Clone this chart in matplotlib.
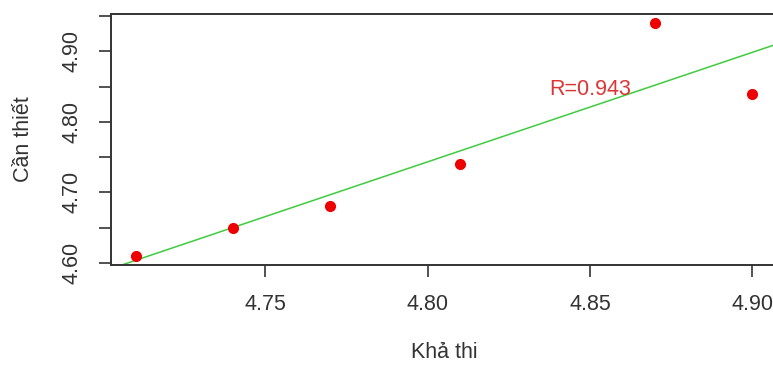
import numpy as np
import matplotlib
matplotlib.use("Agg")
import matplotlib.pyplot as plt

plt.rcParams['font.family'] = ['Liberation Sans', 'DejaVu Sans']

kha_thi = [4.71, 4.74, 4.77, 4.81, 4.87, 4.90]
can_thiet = [4.61, 4.65, 4.68, 4.74, 4.94, 4.84]
x_ticks = [4.75, 4.80, 4.85, 4.90]
y_ticks = [4.60, 4.65, 4.70, 4.75, 4.80, 4.85, 4.90, 4.95]
y_labels = ["4.60", "", "4.70", "", "4.80", "", "4.90", ""]
r_text = "R=0.943"

fig = plt.figure(figsize=(7.73, 3.67), dpi=100)
ax = fig.add_axes([111/773, (367-265)/367, 666/773, 251/367])

x = np.array(kha_thi)
y = np.array(can_thiet)
xr = x.max() - x.min()
yr = y.max() - y.min()
ax.set_xlim(x.min() - 0.04*xr, x.max() + 0.04*xr)
ax.set_ylim(y.min() - 0.04*yr, y.max() + 0.04*yr)

slope, intercept = np.polyfit(x, y, 1)
xl = np.array(ax.get_xlim())
ax.plot(xl, intercept + slope*xl, color='#3ECC3E', lw=1.1, zorder=2)
ax.plot(x, y, 'o', color='#EE0000', markersize=7, zorder=3)

ax.text(4.85, 4.846, r_text, color='#DD3535', fontsize=15.5, ha='center', va='center')

ax.set_xticks(x_ticks)
ax.set_xticklabels([f"{v:.2f}" for v in x_ticks])
ax.set_yticks(y_ticks)
ax.set_yticklabels(y_labels, rotation=90, va='center')

for s in ax.spines.values():
    s.set_color('#333333')
    s.set_linewidth(1.4)
ax.tick_params(length=8.6, width=1.2, color='#333333', labelsize=15.5,
               labelcolor='#333333', pad=12)
ax.set_xlabel("Khả thi", fontsize=15.5, color='#333333', labelpad=20)
ax.set_ylabel("Cần thiết", fontsize=15.5, color='#333333', labelpad=20)

fig.savefig("out.png", dpi=100)
